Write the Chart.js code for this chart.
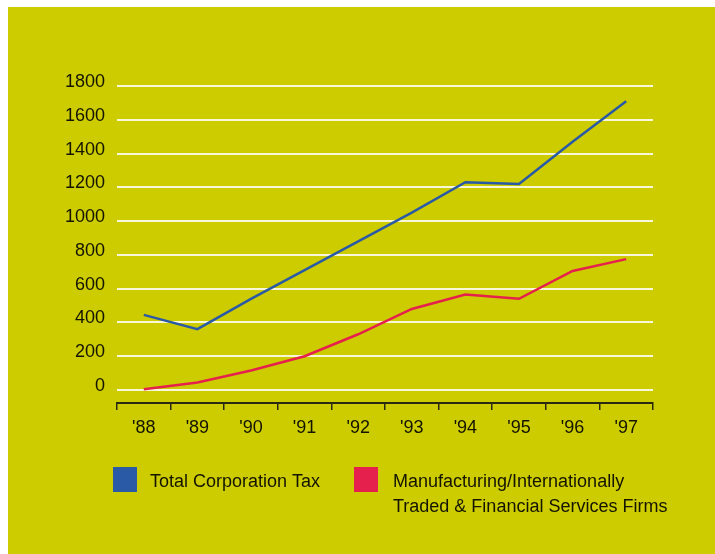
<!DOCTYPE html>
<html>
<head>
<meta charset="utf-8">
<title>Corporation Tax</title>
<script src="https://cdn.jsdelivr.net/npm/chart.js@4"></script>
<style>
  html, body { margin: 0; padding: 0; background: #ffffff; }
  canvas { display: block; }
</style>
</head>
<body>
<canvas id="taxChart" width="715" height="554"></canvas>
<script>
/* ─── Data ───────────────────────────────────────────── */
const YEARS = ["'88", "'89", "'90", "'91", "'92", "'93", "'94", "'95", "'96", "'97"];
const TOTAL_TAX = [445, 360, 540, 710, 880, 1050, 1230, 1220, 1470, 1710];
const MANUF_FIRMS = [5, 45, 115, 200, 330, 480, 565, 540, 705, 775];
const Y_TICKS = [0, 200, 400, 600, 800, 1000, 1200, 1400, 1600, 1800];
const SERIES_LABELS = [
  ["Total Corporation Tax"],
  ["Manufacturing/Internationally", "Traded & Financial Services Firms"],
];

const BG = "#cccc00";
const INK = "#141400";
const BLUE = "#2a5aa6";
const RED = "#e6204c";
const FONT = "'Liberation Sans', Arial, sans-serif";

/* ─── Olive panel behind everything ─────────────────── */
const panelBg = {
  id: "panelBg",
  beforeDraw(chart) {
    const ctx = chart.ctx;
    ctx.save();
    ctx.fillStyle = "#ffffff";
    ctx.fillRect(0, 0, chart.width, chart.height);
    ctx.fillStyle = BG;
    ctx.fillRect(8, 7, chart.width - 8, chart.height - 7);
    ctx.restore();
  },
};

/* ─── Legend: square swatch + one or two lines of text ─ */
const boxLegend = {
  id: "boxLegend",
  afterDraw(chart) {
    const ctx = chart.ctx;
    const slots = [
      { box: 113, text: 150 },
      { box: 354, text: 393 },
    ];
    ctx.save();
    ctx.font = "18px " + FONT;
    ctx.textBaseline = "middle";
    chart.data.datasets.forEach((ds, i) => {
      const s = slots[i];
      ctx.fillStyle = ds.borderColor;
      ctx.fillRect(s.box, 467, 24, 25);
      ctx.fillStyle = INK;
      SERIES_LABELS[i].forEach((line, j) => {
        ctx.fillText(line, s.text, 482 + j * 25);
      });
    });
    ctx.restore();
  },
};

new Chart(document.getElementById("taxChart"), {
  type: "line",
  data: {
    labels: YEARS,
    datasets: [
      {
        label: SERIES_LABELS[0].join(" "),
        data: TOTAL_TAX,
        borderColor: BLUE,
        borderWidth: 2.5,
        pointRadius: 0,
        tension: 0,
      },
      {
        label: SERIES_LABELS[1].join(" "),
        data: MANUF_FIRMS,
        borderColor: RED,
        borderWidth: 2.5,
        pointRadius: 0,
        tension: 0,
      },
    ],
  },
  options: {
    responsive: false,
    animation: false,
    layout: { padding: { left: 60, right: 62, top: 86, bottom: 111 } },
    plugins: {
      legend: { display: false },
      tooltip: { enabled: false },
    },
    scales: {
      x: {
        offset: true,
        grid: {
          offset: true,
          drawOnChartArea: false,
          drawTicks: true,
          tickLength: 7,
          color: "#2a2a10",
          lineWidth: 1.5,
        },
        border: { display: true, color: "#2a2a10", width: 2 },
        ticks: {
          color: INK,
          font: { family: FONT, size: 18 },
          padding: 7,
          maxRotation: 0,
          autoSkip: false,
        },
        afterFit(scale) { scale.height = 40; },
      },
      y: {
        min: -77,
        max: 1800,
        afterBuildTicks(axis) {
          axis.ticks = Y_TICKS.map((v) => ({ value: v }));
        },
        grid: {
          color: "rgba(255,255,255,0.85)",
          lineWidth: 2,
          drawTicks: false,
        },
        border: { display: false },
        ticks: {
          color: INK,
          font: { family: FONT, size: 18 },
          padding: 12,
          labelOffset: -4,
          callback: (v) => String(v),
        },
        afterFit(scale) { scale.width = 57; },
      },
    },
  },
  plugins: [panelBg, boxLegend],
});
</script>
</body>
</html>
